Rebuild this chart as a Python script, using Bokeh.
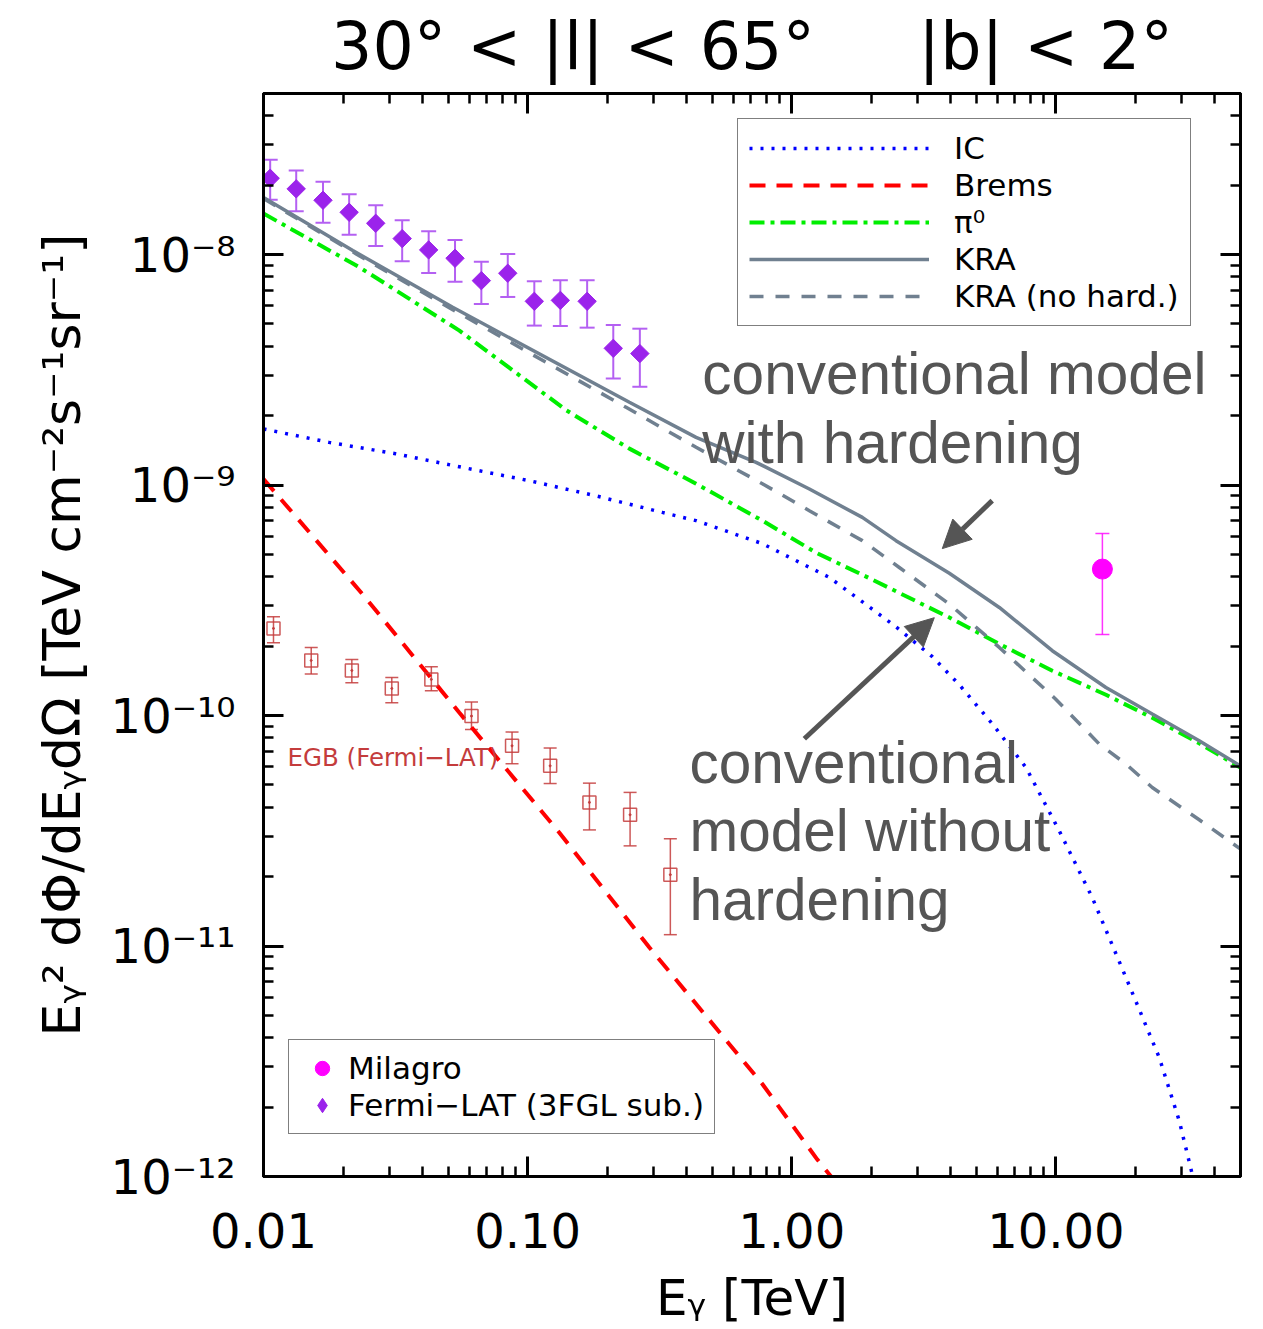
from bokeh.plotting import figure
from bokeh.models import (ColumnDataSource, Whisker, TeeHead, Legend, LegendItem, FixedTicker,
                          CustomJSTickFormatter, LogAxis, Label, Arrow, NormalHead)
from bokeh.embed import file_html
from bokeh.resources import INLINE

# ---------------- data ----------------
# Fermi-LAT (3FGL sub.)
fermi_E = [0.0106, 0.0133, 0.0168, 0.0211, 0.0266, 0.0335, 0.0422, 0.0531, 0.0668, 0.0841,
           0.106, 0.133, 0.168, 0.211, 0.266]
fermi_F = [2.144e-8, 1.929e-8, 1.721e-8, 1.526e-8, 1.367e-8, 1.173e-8, 1.048e-8, 9.64e-9, 7.71e-9,
           8.30e-9, 6.27e-9, 6.33e-9, 6.27e-9, 3.92e-9, 3.72e-9]
fermi_hi = [2.58e-8, 2.316e-8, 2.068e-8, 1.827e-8, 1.637e-8, 1.409e-8, 1.262e-8, 1.158e-8, 9.32e-9,
            1.007e-8, 7.66e-9, 7.74e-9, 7.74e-9, 4.95e-9, 4.77e-9]
fermi_lo = [1.728e-8, 1.541e-8, 1.373e-8, 1.218e-8, 1.091e-8, 9.35e-9, 8.33e-9, 7.63e-9, 6.11e-9,
            6.55e-9, 4.92e-9, 4.90e-9, 4.82e-9, 2.90e-9, 2.67e-9]

# EGB (Fermi-LAT)
egb_E = [0.01091, 0.01516, 0.0216, 0.0306, 0.0432, 0.0613, 0.0873, 0.1217, 0.1714, 0.2443, 0.347]
egb_F = [2.388e-10, 1.734e-10, 1.569e-10, 1.311e-10, 1.435e-10, 9.95e-11, 7.39e-11, 6.05e-11,
         4.20e-11, 3.71e-11, 2.04e-11]
egb_hi = [2.685e-10, 1.975e-10, 1.752e-10, 1.464e-10, 1.628e-10, 1.145e-10, 8.48e-11, 7.23e-11,
          5.09e-11, 4.64e-11, 2.92e-11]
egb_lo = [2.07e-10, 1.514e-10, 1.388e-10, 1.137e-10, 1.281e-10, 8.70e-11, 6.18e-11, 5.07e-11,
          3.19e-11, 2.72e-11, 1.12e-11]

# Milagro
mil_E = [15.0]
mil_F = [4.32e-10]
mil_hi = [6.17e-10]
mil_lo = [2.25e-10]

# Model curves
kra_E = [0.01, 0.02178, 0.05204, 0.2428, 0.4343, 0.7325, 1.166, 1.850, 2.481, 3.950, 6.107,
         9.692, 15.47, 23.17, 34.89, 49.9]
kra_F = [1.768e-8, 1.041e-8, 5.905e-9, 2.286e-9, 1.611e-9, 1.255e-9, 9.62e-10, 7.24e-10, 5.74e-10,
         4.145e-10, 2.945e-10, 1.911e-10, 1.324e-10, 1.015e-10, 7.77e-11, 6.05e-11]

kranh_E = [0.01, 0.02244, 0.05204, 0.2359, 0.4343, 0.7738, 1.166, 1.850, 2.554, 3.950, 6.107,
           9.947, 14.60, 18.43, 23.17, 34.89, 49.9]
kranh_F = [1.750e-8, 1.007e-8, 5.77e-9, 2.174e-9, 1.458e-9, 1.014e-9, 7.74e-10, 5.74e-10, 4.39e-10,
           3.047e-10, 1.975e-10, 1.183e-10, 7.52e-11, 6.16e-11, 4.87e-11, 3.53e-11, 2.64e-11]

pi0_E = [0.01, 0.02308, 0.05518, 0.1399, 0.2428, 0.4343, 0.7738, 1.236, 1.850, 3.950, 6.107,
         9.692, 15.47, 23.17, 34.89, 49.9]
pi0_F = [1.507e-8, 8.81e-9, 4.68e-9, 2.113e-9, 1.439e-9, 1.014e-9, 7.01e-10, 5.09e-10, 4.08e-10,
         2.665e-10, 2.043e-10, 1.565e-10, 1.231e-10, 9.78e-11, 7.58e-11, 5.95e-11]

ic_E = [0.01, 0.01773, 0.03159, 0.05663, 0.1013, 0.1805, 0.3237, 0.4343, 0.7738, 1.388, 2.481,
        3.406, 4.310, 5.744, 7.706, 10.30, 13.73, 18.42, 24.63, 29.32, 31.44, 34.89]
ic_F = [1.752e-9, 1.532e-9, 1.368e-9, 1.193e-9, 1.045e-9, 8.99e-10, 7.61e-10, 7.01e-10, 5.57e-10,
        3.975e-10, 2.428e-10, 1.80e-10, 1.36e-10, 9.21e-11, 5.95e-11, 3.16e-11, 1.623e-11,
        7.30e-12, 3.28e-12, 1.743e-12, 1.253e-12, 7.68e-13]

brems_E = [0.01, 0.02369, 0.05518, 0.1319, 0.2891, 0.7738, 1.250, 1.984]
brems_F = [1.063e-9, 3.367e-10, 1.028e-10, 3.10e-11, 9.85e-12, 2.52e-12, 1.184e-12, 6.17e-13]

x_major = [0.01, 0.1, 1.0, 10.0]
y_major = [1e-12, 1e-11, 1e-10, 1e-9, 1e-8]
x_minor = [k * 10.0 ** n for n in range(-2, 2) for k in range(2, 10) if k * 10.0 ** n <= 50]
y_minor = [k * 10.0 ** n for n in range(-12, -7) for k in range(2, 10) if k * 10.0 ** n <= 5e-8]

title_text = "30° < |l| < 65°\u00a0\u00a0\u00a0\u00a0\u00a0|b| < 2°"

# ---------------- figure ----------------
p = figure(width=1263, height=1329, x_axis_type="log", y_axis_type="log",
           x_range=(0.01, 50), y_range=(1e-12, 5e-8),
           output_backend="svg", toolbar_location=None,
           min_border_left=263, min_border_right=23, min_border_top=93, min_border_bottom=153)
p.xgrid.visible = False
p.ygrid.visible = False
p.outline_line_color = "black"
p.outline_line_width = 3
p.background_fill_color = "white"
p.border_fill_color = "white"

p.title.text = title_text
p.title.align = "center"
p.title.vertical_align = "top"
p.title.text_font = "DejaVu Sans"
p.title.text_font_size = "65px"
p.title.text_font_style = "normal"
p.title.text_color = "black"
p.title.standoff = 16

xt = FixedTicker(ticks=x_major, minor_ticks=x_minor)
yt = FixedTicker(ticks=y_major, minor_ticks=y_minor)
blank = CustomJSTickFormatter(code="return '';")

p.add_layout(LogAxis(ticker=xt, formatter=blank), "above")
p.add_layout(LogAxis(ticker=yt, formatter=blank), "right")

p.xaxis[0].ticker = xt
p.yaxis[0].ticker = yt
for ax in list(p.xaxis) + list(p.yaxis):
    ax.axis_line_width = 3
    ax.major_tick_in = 20
    ax.major_tick_out = 0
    ax.minor_tick_in = 10
    ax.minor_tick_out = 0
    ax.major_tick_line_width = 3
    ax.minor_tick_line_width = 2.5
    ax.major_label_text_color = "black"
    ax.axis_label_text_color = "black"

bx = p.below[0]
bx.formatter = CustomJSTickFormatter(code="return tick.toFixed(2);")
bx.major_label_text_font = "DejaVu Sans"
bx.major_label_text_font_size = "48px"
bx.major_label_standoff = 36
bx.axis_label = "E\u1d67 [TeV]"
bx.axis_label_text_font = "DejaVu Sans"
bx.axis_label_text_font_size = "50px"
bx.axis_label_text_font_style = "normal"
bx.axis_label_standoff = 18

ly = p.left[0]
ly.formatter = CustomJSTickFormatter(code="""
const e = Math.round(Math.log10(tick));
const m = {"-":"⁻","0":"⁰","1":"¹","2":"²","3":"³","4":"⁴","5":"⁵","6":"⁶","7":"⁷","8":"⁸","9":"⁹"};
return "10" + String(e).split("").map(c => m[c]).join("");
""")
ly.major_label_text_font = "DejaVu Sans"
ly.major_label_text_font_size = "48px"
ly.major_label_standoff = 28
ly.axis_label = "E\u1d67² dΦ/dE\u1d67dΩ [TeV cm⁻²s⁻¹sr⁻¹]"
ly.axis_label_text_font = "DejaVu Sans"
ly.axis_label_text_font_size = "52px"
ly.axis_label_text_font_style = "normal"
ly.axis_label_standoff = 16

# ---------------- model curves ----------------
gray = "#708090"
ic = p.line(ic_E, ic_F, line_color="#0000FF", line_width=3.5, line_dash="3 8")
br = p.line(brems_E, brems_F, line_color="#FF0000", line_width=4, line_dash="16 11")
pi = p.line(pi0_E, pi0_F, line_color="#00EE00", line_width=4, line_dash="15 6 4 6")
kra = p.line(kra_E, kra_F, line_color=gray, line_width=3.5)
kranh = p.line(kranh_E, kranh_F, line_color=gray, line_width=3.5, line_dash="14 12")

# ---------------- EGB points ----------------
egb_col = "#C43C3C"
egb_src = ColumnDataSource(dict(x=egb_E, y=egb_F, lo=egb_lo, hi=egb_hi))
p.add_layout(Whisker(base="x", lower="lo", upper="hi", source=egb_src, dimension="height",
                     line_color=egb_col, line_width=1.5, line_alpha=0.85,
                     upper_head=TeeHead(size=13, line_color=egb_col, line_width=1.5, line_alpha=0.85),
                     lower_head=TeeHead(size=13, line_color=egb_col, line_width=1.5, line_alpha=0.85)))
p.scatter("x", "y", source=egb_src, marker="square", size=13, fill_color=None,
          line_color=egb_col, line_width=1.5, line_alpha=0.85)
p.scatter("x", "y", source=egb_src, marker="circle", size=2, color=egb_col)

# ---------------- Fermi points ----------------
fcol = "#9B23EB"
fbar = "#B460F2"
f_src = ColumnDataSource(dict(x=fermi_E, y=fermi_F, lo=fermi_lo, hi=fermi_hi))
p.add_layout(Whisker(base="x", lower="lo", upper="hi", source=f_src, dimension="height",
                     line_color=fbar, line_width=2,
                     upper_head=TeeHead(size=15, line_color=fbar, line_width=2),
                     lower_head=TeeHead(size=15, line_color=fbar, line_width=2)))
# diamond-shaped key renderer (lies fully inside the rotated squares drawn on top)
fermi_key = p.scatter("x", "y", source=f_src, marker="diamond", size=12,
                      fill_color=fcol, line_color=fcol)
p.scatter("x", "y", source=f_src, marker="square", angle=0.7853981634, size=13,
          fill_color=fcol, line_color=fcol)

# ---------------- Milagro ----------------
mcol = "#FF00FF"
m_src = ColumnDataSource(dict(x=mil_E, y=mil_F, lo=mil_lo, hi=mil_hi))
p.add_layout(Whisker(base="x", lower="lo", upper="hi", source=m_src, dimension="height",
                     line_color=mcol, line_width=1.5, line_alpha=0.8,
                     upper_head=TeeHead(size=14, line_color=mcol, line_width=1.5, line_alpha=0.8),
                     lower_head=TeeHead(size=14, line_color=mcol, line_width=1.5, line_alpha=0.8)))
mil = p.scatter("x", "y", source=m_src, marker="circle", size=20, fill_color=mcol, line_color=mcol)

# ---------------- annotations ----------------
tcol = "#555555"
for txt, xx, yy in [("conventional model", 0.4587, 3.044e-9),
                    ("with hardening", 0.4587, 1.528e-9),
                    ("conventional", 0.4097, 6.24e-11),
                    ("model without", 0.4097, 3.162e-11),
                    ("hardening", 0.4097, 1.587e-11)]:
    p.add_layout(Label(x=xx, y=yy, text=txt, text_font="Liberation Sans", text_font_size="58.5px",
                       text_color=tcol, text_align="left", text_baseline="alphabetic"))

p.add_layout(Label(x=0.01233, y=6.56e-11, text="EGB (Fermi\u2212LAT)", text_font="DejaVu Sans",
                   text_font_size="24.5px", text_color=egb_col, text_align="left",
                   text_baseline="middle"))

p.add_layout(Arrow(x_start=5.74, y_start=8.56e-10, x_end=3.715, y_end=5.30e-10,
                   line_color=tcol, line_width=5,
                   end=NormalHead(size=28, fill_color=tcol, line_color=tcol)))
p.add_layout(Arrow(x_start=1.116, y_start=7.93e-11, x_end=3.465, y_end=2.658e-10,
                   line_color=tcol, line_width=5,
                   end=NormalHead(size=28, fill_color=tcol, line_color=tcol)))

# ---------------- legends ----------------
leg1 = Legend(items=[LegendItem(label="IC", renderers=[ic]),
                     LegendItem(label="Brems", renderers=[br]),
                     LegendItem(label="π⁰", renderers=[pi]),
                     LegendItem(label="KRA", renderers=[kra]),
                     LegendItem(label="KRA (no hard.)", renderers=[kranh])],
              location=(474, 850), glyph_width=180, glyph_height=30, label_height=30,
              label_standoff=25, spacing=1, padding=11, margin=0,
              label_text_font="DejaVu Sans", label_text_font_size="31px",
              label_text_color="black",
              border_line_color="black", border_line_width=1.5,
              background_fill_color="white", background_fill_alpha=1)
p.add_layout(leg1)

leg2 = Legend(items=[LegendItem(label="Milagro", renderers=[mil]),
                     LegendItem(label="Fermi\u2212LAT (3FGL sub.)", renderers=[fermi_key])],
              location=(25, 42), glyph_width=46, glyph_height=36, label_height=30,
              label_standoff=3, spacing=1, padding=10, margin=0,
              label_text_font="DejaVu Sans", label_text_font_size="31px",
              label_text_color="black",
              border_line_color="black", border_line_width=1.5,
              background_fill_color="white", background_fill_alpha=1)
p.add_layout(leg2)

open("out.html", "w").write(file_html(p, INLINE))
